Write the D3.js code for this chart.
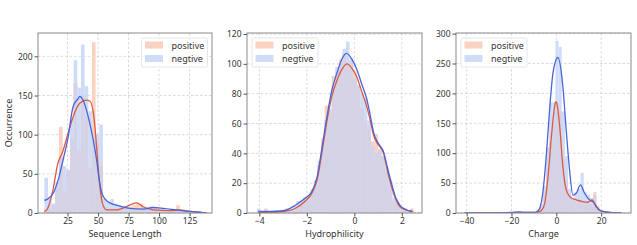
<!DOCTYPE html>
<html><head><meta charset="utf-8">
<script src="https://cdn.jsdelivr.net/npm/d3@7"></script>
<style>body{margin:0;background:#fff}svg{display:block}text{font-family:"Noto Sans",sans-serif;fill:#333}</style>
</head><body><svg id="c" width="637" height="245"></svg>
<script>
// ---------- data ----------
const seriesNames = ["positive", "negtive"];
// Panel 1: Sequence Length (bins of width 3 starting at 6)
const lenBinStart = 6, lenBinWidth = 3;
const lenPos = [5,5,10,30,110,28,55,95,165,80,150,125,58,218,90,60,8,5,6,6,5,5,6,8,10,12,12,8,6,4,5,5,3,4,3,3,10,3,2,2,1,1,1,0];
const lenNeg = [45,18,12,40,70,60,55,120,195,160,215,162,130,95,100,113,18,15,18,12,10,9,8,7,6,5,5,7,8,8,6,5,5,4,4,3,4,2,2,1,1,1,0,0];
const lenKdePosX = [6,8,13,17,21,25.5,29.6,35,40.6,43.3,46.6,48.8,51,53.7,57,65,76,81.6,87,95,109,117,125,136,139];
const lenKdePosY = [2,4,29,63,78,102,123,140,144,143,123,85,42,12,4,4,10,13,8,4,3,4,2,0.5,0];
const lenKdeNegX = [6,7.8,13.2,17.3,21.4,25.5,29.6,33.7,35,37.8,40.6,43.3,46.6,48.8,51,53.7,58.4,65,76,87,95,103.5,114,125,136,139];
const lenKdeNegY = [16,17,25,42,68,97,136,146,149,144,131,114,89,68,42,23,14,10,6,5,7,6,4,2,0.5,0];
const lenXTicks = [25,50,75,100,125];
const lenYTicks = [0,50,100,150,200];

// Panel 2: Hydrophilicity (bins of width 0.15 starting at -4.1)
const hydBinStart = -4.1, hydBinWidth = 0.15;
const hydPos = [1,0,3,1,1,1,1,2,3,2,3,4,6,10,12,16,20,35,50,72,68,92,95,103,107,100,102,95,85,70,62,58,48,53,43,38,28,18,8,7,4,3,2,3];
const hydNeg = [3,1,1,1,1,2,1,2,2,3,5,8,9,11,10,14,22,32,45,62,70,85,98,100,110,115,104,90,86,80,77,62,45,40,42,38,30,22,10,6,3,3,2,2];
const hydKdePosX = [-4.05,-3.5,-3,-2.5,-2.06,-1.8,-1.57,-1.35,-1.15,-0.95,-0.73,-0.5,-0.31,-0.1,0.11,0.3,0.53,0.7,0.81,1.0,1.23,1.4,1.58,1.75,1.93,2.2,2.45];
const hydKdePosY = [0.5,0.5,1,3,8,13,22,42,62,78,89,97,100,97,91,82,71,60,52,46,40,28,17,9,4,2,1];
const hydKdeNegX = [-4.05,-3.5,-3,-2.5,-2.06,-1.8,-1.57,-1.35,-1.15,-0.95,-0.73,-0.5,-0.33,-0.1,0.11,0.3,0.53,0.7,0.81,1.0,1.23,1.4,1.58,1.75,1.93,2.2,2.45];
const hydKdeNegY = [1,1,1.5,5,10,14,24,45,65,82,94,104,107,103,96,87,76,63,54,47,41,30,19,10,5,2,1];
const hydXTicks = [-4,-2,0,2];
const hydYTicks = [0,20,40,60,80,100,120];

// Panel 3: Charge (bins of width 1.4 starting at -41)
const chgBinStart = -41, chgBinWidth = 1.4;
const chgPos = [0,0,0,0,0,0,0,0,0,0,0,0,0,0,0,0,0,0,0,0,0,0,0,3,10,30,75,120,150,185,170,90,55,30,25,20,22,20,18,15,25,35,12,4,2,1,1,1,1,0];
const chgNeg = [1,0,0,0,0,0,0,0,1,0,0,0,0,0,0,0,0,2,1,0,0,0,2,6,15,45,110,185,185,288,278,170,95,40,25,35,40,67,35,30,15,30,10,5,3,2,1,1,0,0];
const chgKdePosX = [-41,-30,-20,-15,-10,-8,-6.7,-5.2,-3.7,-2.2,-1,-0.3,0.5,1.5,2.9,4.4,6.7,8.9,11.8,14,16,17.8,20,24,29];
const chgKdePosY = [0,0,0.5,1,1,2,4,16,61,128,172,186,178,145,78,39,25,22,19,18,22,10,3,1,0];
const chgKdeNegX = [-41,-30,-20,-17,-14,-10,-8.9,-7.4,-5.9,-4.4,-3,-1.5,0.7,2.9,4.4,5.9,7.4,8.9,10.7,12.6,14.8,16.3,19.2,21.5,24,29];
const chgKdeNegY = [0,0,1,2,1,1,1.5,8,38,100,173,234,260,212,139,72,30,33,47,33,22,19,5,2,1,0];
const chgXTicks = [-40,-20,0,20];
const chgYTicks = [0,50,100,150,200,250,300];

const xLabels = ["Sequence Length", "Hydrophilicity", "Charge"];
const yLabel = "Occurrence";

// ---------- styling ----------
const posFill = "#f9d2c2", negFill = "#cfdcf8", bothFill = "#d5d2e6";
const posLine = "#dc5a44", negLine = "#4a64d8";
const FONT = "Noto Sans";

const svg = d3.select("#c");
const plotTop = 33, plotBottom = 213;
const panels = [
  {left:38, right:212, xd:[0.8,143.4], yd:[0,229.8], bs:lenBinStart, bw:lenBinWidth, pos:lenPos, neg:lenNeg,
   kp:[lenKdePosX,lenKdePosY], kn:[lenKdeNegX,lenKdeNegY], xt:lenXTicks, yt:lenYTicks, legend:"right", label:xLabels[0]},
  {left:247, right:422, xd:[-4.52,2.85], yd:[0,120.7], bs:hydBinStart, bw:hydBinWidth, pos:hydPos, neg:hydNeg,
   kp:[hydKdePosX,hydKdePosY], kn:[hydKdeNegX,hydKdeNegY], xt:hydXTicks, yt:hydYTicks, legend:"left", label:xLabels[1]},
  {left:456, right:631, xd:[-44.75,33.3], yd:[0,301], bs:chgBinStart, bw:chgBinWidth, pos:chgPos, neg:chgNeg,
   kp:[chgKdePosX,chgKdePosY], kn:[chgKdeNegX,chgKdeNegY], xt:chgXTicks, yt:chgYTicks, legend:"left", label:xLabels[2]}
];
const fmt = v => (v < 0 ? "\u2212" + Math.abs(v) : String(v));

panels.forEach((p, pi) => {
  const x = d3.scaleLinear().domain(p.xd).range([p.left, p.right]);
  const y = d3.scaleLinear().domain(p.yd).range([plotBottom, plotTop]);
  const g = svg.append("g");
  const clipId = "clip" + pi;
  svg.append("clipPath").attr("id", clipId).append("rect")
    .attr("x", p.left).attr("y", plotTop).attr("width", p.right - p.left).attr("height", plotBottom - plotTop);

  // grid
  const grid = g.append("g").attr("stroke", "#d0d0d0").attr("stroke-width", 0.8).attr("stroke-dasharray", "2.5,2");
  p.xt.forEach(t => grid.append("line").attr("x1", x(t)).attr("x2", x(t)).attr("y1", plotTop).attr("y2", plotBottom));
  p.yt.forEach(t => grid.append("line").attr("x1", p.left).attr("x2", p.right).attr("y1", y(t)).attr("y2", y(t)));

  // histograms
  const bars = g.append("g").attr("clip-path", `url(#${clipId})`);
  const bins = p.pos.map((v, i) => ({x0: p.bs + i*p.bw, x1: p.bs + (i+1)*p.bw, r: v, b: p.neg[i]}));
  bars.selectAll(".pb").data(bins).join("rect")
    .attr("x", d => x(d.x0)).attr("width", d => x(d.x1) - x(d.x0))
    .attr("y", d => y(d.r)).attr("height", d => y(0) - y(d.r)).attr("fill", posFill);
  bars.selectAll(".nb").data(bins).join("rect")
    .attr("x", d => x(d.x0)).attr("width", d => x(d.x1) - x(d.x0))
    .attr("y", d => y(d.b)).attr("height", d => y(0) - y(d.b)).attr("fill", negFill);
  bars.selectAll(".ob").data(bins).join("rect")
    .attr("x", d => x(d.x0)).attr("width", d => x(d.x1) - x(d.x0))
    .attr("y", d => y(Math.min(d.r, d.b))).attr("height", d => y(0) - y(Math.min(d.r, d.b))).attr("fill", bothFill);

  // kde lines
  const line = d3.line().x(d => x(d[0])).y(d => y(d[1])).curve(d3.curveMonotoneX);
  const kp = p.kp[0].map((v, i) => [v, p.kp[1][i]]);
  const kn = p.kn[0].map((v, i) => [v, p.kn[1][i]]);
  bars.append("path").attr("d", line(kp)).attr("fill", "none").attr("stroke", posLine).attr("stroke-width", 1.3);
  bars.append("path").attr("d", line(kn)).attr("fill", "none").attr("stroke", negLine).attr("stroke-width", 1.3);

  // frame
  g.append("rect").attr("x", p.left).attr("y", plotTop).attr("width", p.right - p.left).attr("height", plotBottom - plotTop)
    .attr("fill", "none").attr("stroke", "#8a8a8a").attr("stroke-width", 1);

  // axes
  const xa = g.append("g").attr("transform", `translate(0,${plotBottom})`)
    .call(d3.axisBottom(x).tickValues(p.xt).tickFormat(fmt).tickSize(3.5).tickPadding(1.5));
  const ya = g.append("g").attr("transform", `translate(${p.left},0)`)
    .call(d3.axisLeft(y).tickValues(p.yt).tickFormat(fmt).tickSize(3.5).tickPadding(2));
  [xa, ya].forEach(a => {
    a.select(".domain").remove();
    a.selectAll("line").attr("stroke", "#555");
    a.selectAll("text").attr("font-size", 8.5).attr("fill", "#333").attr("font-family", FONT);
  });

  g.append("text").attr("x", (p.left + p.right)/2).attr("y", 236.5).attr("text-anchor", "middle")
    .attr("font-size", 9).text(p.label);

  // legend
  const lw = 66, lh = 29;
  const lx = p.legend === "right" ? p.right - 4.5 - lw : p.left + 5;
  const ly = plotTop + 5;
  const lg = g.append("g");
  lg.append("rect").attr("x", lx).attr("y", ly).attr("width", lw).attr("height", lh).attr("rx", 1.5)
    .attr("fill", "#fff").attr("fill-opacity", 0.8).attr("stroke", "#e0e0e0").attr("stroke-width", 0.8);
  [posFill, negFill].forEach((c, i) => {
    lg.append("rect").attr("x", lx + 3.5).attr("y", ly + 3.5 + i*13.5).attr("width", 18).attr("height", 7).attr("fill", c);
    lg.append("text").attr("x", lx + 30).attr("y", ly + 10.5 + i*13.5).attr("font-size", 9).text(seriesNames[i]);
  });
});

svg.append("text").attr("transform", `translate(12,${(plotTop+plotBottom)/2}) rotate(-90)`).attr("text-anchor", "middle")
  .attr("font-size", 9).text(yLabel);
</script></body></html>
